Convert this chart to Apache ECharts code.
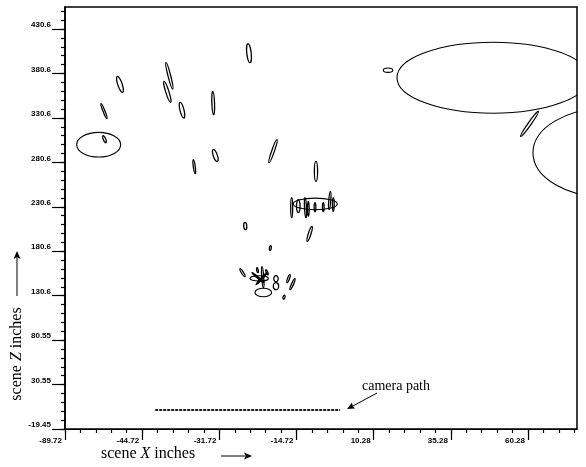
<!DOCTYPE html>
<html>
<head>
<meta charset="utf-8">
<script src="https://cdn.jsdelivr.net/npm/echarts@6/dist/echarts.min.js"></script>
<style>html,body{margin:0;padding:0;background:#fff}#c{width:586px;height:467px}</style>
</head>
<body>
<div id="c"></div>
<script>
// ---- axes ----
const X_MIN = -89.72, X_MAX = 76.15;
const Y_MIN = -19.45, Y_MAX = 455.3;
const xTickValues = [-89.72, -64.72, -39.72, -14.72, 10.28, 35.28, 60.28];
const xTickLabels = ['-89.72', '-44.72', '-31.72', '-14.72', '10.28', '35.28', '60.28'];
const yTickValues = [-19.45, 30.55, 80.55, 130.55, 180.55, 230.55, 280.55, 330.55, 380.55, 430.55];
const yTickLabels = ['-19.45', '30.55', '80.55', '130.6', '180.6', '230.6', '280.6', '330.6', '380.6', '430.6'];
const xMinorStep = 5, yMinorStep = 10;

// ---- axis-aligned ellipses: centre X, centre Z, semi-axis X, semi-axis Z (scene inches) ----
const ellX  = [-78.81, 48.93, 86.51, 14.92, -8.64, -26.81, -25.48];
const ellZ  = [300.39, 375.76, 291.39, 384.20, 233.78, 149.97, 134.11];
const ellRX = [7.13, 31.10, 24.62, 1.52, 7.13, 2.98, 2.69];
const ellRZ = [13.84, 39.94, 50.63, 2.48, 6.53, 3.04, 4.73];

// ---- thin elongated ellipses: major axis end points (X1,Z1)-(X2,Z2), minor semi-axis (Z units) ----
const strX1 = [-77.41, -78.06, -72.78, -57.00, -57.65, -52.47, -41.87, -48.16, -41.68, -30.44, -21.04, -8.41,
               -16.28, -14.14, -11.97, -10.90, -8.73, -6.04, -3.71, -2.80,
               -31.41, -9.70, -23.08, 63.61,
               -33.03, -25.90, -27.52, -24.61, -16.83, -15.21, -18.61, -21.37, -21.37, -29.14, -24.28];
const strZ1 = [310.51, 346.51, 377.22, 392.63, 371.60, 347.97, 360.35, 283.51, 294.76, 414.01, 306.01, 281.60,
               240.76, 238.51, 240.76, 236.60, 235.13, 235.13, 247.85, 240.76,
               212.97, 208.47, 186.76, 337.85,
               160.88, 163.13, 162.01, 159.76, 154.13, 149.63, 131.07, 153.01, 145.13, 156.38, 156.38];
const strX2 = [-76.44, -76.12, -71.03, -54.83, -55.48, -51.17, -41.55, -47.51, -40.38, -29.79, -23.63, -8.41,
               -16.28, -14.14, -11.65, -10.90, -8.73, -6.04, -4.20, -2.80,
               -31.25, -11.23, -23.31, 57.91,
               -31.41, -25.42, -27.20, -23.96, -17.80, -16.83, -18.94, -21.37, -21.37, -25.25, -27.85];
const strZ2 = [302.63, 329.63, 359.22, 363.05, 347.97, 330.42, 334.13, 267.76, 281.60, 392.63, 280.13, 259.10,
               218.26, 223.88, 218.26, 219.72, 225.01, 225.01, 227.26, 225.35,
               204.76, 191.60, 181.47, 309.72,
               151.88, 139.51, 156.38, 154.13, 145.13, 137.26, 126.57, 146.26, 137.26, 145.13, 142.88];
const strW  = [1.35, 1.1, 2.5, 1.5, 1.8, 2.25, 1.5, 1.1, 2.25, 2.5, 1.5, 1.8,
               1.1, 2.0, 1.1, 1.0, 1.0, 1.0, 1.1, 1.0,
               1.7, 1.5, 1.1, 1.7,
               1.1, 1.1, 0.9, 0.9, 1.1, 1.1, 1.1, 2.5, 3.0, 0.8, 0.8];

// ---- camera path ----
const camX = [-60.5, -0.6];
const camZ = [2.0, 2.0];

const xMinor = [], yMinor = [];
for (let v = X_MIN; v <= X_MAX + 1e-6; v += xMinorStep) xMinor.push(+v.toFixed(2));
for (let v = Y_MIN; v <= Y_MAX + 1e-6; v += yMinorStep) yMinor.push(+v.toFixed(2));

function lookup(vals, labels) {
  return function (v) {
    for (let i = 0; i < vals.length; i++) if (Math.abs(vals[i] - v) < 0.01) return labels[i];
    return '';
  };
}

const ellData = ellX.map((x, i) => [x, ellZ[i], ellRX[i], ellRZ[i]]);
const strData = strX1.map((x, i) => [x, strZ1[i], strX2[i], strZ2[i], strW[i]]);

const labelFont = { fontFamily: 'Liberation Sans', fontWeight: 'bold', fontSize: 8, color: '#000' };
const chart = echarts.init(document.getElementById('c'), null, { renderer: 'canvas' });

const baseX = { type: 'value', min: X_MIN, max: X_MAX, splitLine: { show: false } };
const baseY = { type: 'value', min: Y_MIN, max: Y_MAX, splitLine: { show: false } };

chart.setOption({
  animation: false,
  backgroundColor: '#fff',
  grid: { left: 65, right: 9, top: 7, bottom: 38, show: true, borderColor: '#000', borderWidth: 1.5,
          containLabel: false, outerBoundsMode: 'none' },
  xAxis: [
    Object.assign({}, baseX, {
      position: 'bottom',
      axisLine: { show: true, onZero: false, lineStyle: { color: '#000', width: 1.2 } },
      axisTick: { show: true, length: 11, customValues: xTickValues, lineStyle: { color: '#000', width: 1.2 } },
      axisLabel: Object.assign({ show: true, customValues: xTickValues, formatter: lookup(xTickValues, xTickLabels),
                   align: 'right', verticalAlign: 'top', margin: 8, padding: [0, 3, 0, 0] }, labelFont)
    }),
    Object.assign({}, baseX, {
      position: 'bottom',
      axisLine: { show: false, onZero: false },
      axisTick: { show: true, length: 4, customValues: xMinor, lineStyle: { color: '#000', width: 1.2 } },
      axisLabel: { show: false }
    })
  ],
  yAxis: [
    Object.assign({}, baseY, {
      position: 'left',
      axisLine: { show: true, onZero: false, lineStyle: { color: '#000', width: 1.6 } },
      axisTick: { show: true, length: 13, customValues: yTickValues, lineStyle: { color: '#000', width: 1.2 } },
      axisLabel: Object.assign({ show: true, customValues: yTickValues, formatter: lookup(yTickValues, yTickLabels),
                   align: 'right', verticalAlign: 'bottom', margin: 14 }, labelFont)
    }),
    Object.assign({}, baseY, {
      position: 'left',
      axisLine: { show: false, onZero: false },
      axisTick: { show: true, length: 4, customValues: yMinor, lineStyle: { color: '#000', width: 1.2 } },
      axisLabel: { show: false }
    })
  ],
  series: [
    {
      type: 'custom', name: 'ellipses', clip: true, xAxisIndex: 0, yAxisIndex: 0,
      encode: { x: 0, y: 1 },
      data: ellData,
      renderItem: function (params, api) {
        const c = api.coord([api.value(0), api.value(1)]);
        const s = api.size([api.value(2), api.value(3)]);
        return { type: 'ellipse', shape: { cx: c[0], cy: c[1], rx: s[0], ry: s[1] },
                 style: { fill: 'none', stroke: '#000', lineWidth: 1.1 } };
      }
    },
    {
      type: 'custom', name: 'streaks', clip: true, xAxisIndex: 0, yAxisIndex: 0,
      encode: { x: [0, 2], y: [1, 3] },
      data: strData,
      renderItem: function (params, api) {
        const p1 = api.coord([api.value(0), api.value(1)]);
        const p2 = api.coord([api.value(2), api.value(3)]);
        const w = api.size([0, api.value(4)])[1];
        const dx = p2[0] - p1[0], dy = p2[1] - p1[1];
        const len = Math.sqrt(dx * dx + dy * dy) / 2;
        const ang = Math.atan2(dy, dx);
        return { type: 'ellipse', x: (p1[0] + p2[0]) / 2, y: (p1[1] + p2[1]) / 2, rotation: -ang,
                 shape: { cx: 0, cy: 0, rx: len, ry: w },
                 style: { fill: 'none', stroke: '#000', lineWidth: 1.3 } };
      }
    },
    {
      type: 'line', name: 'camera path', xAxisIndex: 0, yAxisIndex: 0,
      data: camX.map((x, i) => [x, camZ[i]]),
      symbol: 'none',
      lineStyle: { color: '#222', width: 2, type: [3, 1] }
    }
  ],
  graphic: [
    { type: 'text', left: 101, top: 446, z: 10,
      style: { text: '{n|scene }{i|X}{n| inches}', fill: '#000',
               rich: { n: { fontFamily: 'Liberation Serif', fontSize: 16, fill: '#000' },
                       i: { fontFamily: 'Liberation Serif', fontSize: 16, fontStyle: 'italic', fill: '#000' } } } },
    { type: 'line', shape: { x1: 221, y1: 456, x2: 250, y2: 456 }, style: { stroke: '#000', lineWidth: 1 } },
    { type: 'polygon', shape: { points: [[252, 456], [244, 452.5], [246, 456], [244, 459.5]] }, style: { fill: '#000' } },
    { type: 'text', x: 17, y: 354, rotation: Math.PI / 2, z: 10,
      style: { text: '{n|scene }{i|Z}{n| inches}', align: 'center', verticalAlign: 'middle', fill: '#000',
               rich: { n: { fontFamily: 'Liberation Serif', fontSize: 16, fill: '#000' },
                       i: { fontFamily: 'Liberation Serif', fontSize: 16, fontStyle: 'italic', fill: '#000' } } } },
    { type: 'line', shape: { x1: 17, y1: 296, x2: 17, y2: 254 }, style: { stroke: '#000', lineWidth: 1 } },
    { type: 'polygon', shape: { points: [[17, 251], [13.5, 259], [17, 257], [20.5, 259]] }, style: { fill: '#000' } },
    { type: 'text', x: 362, y: 386, z: 10,
      style: { text: 'camera path', fontFamily: 'Liberation Serif', fontSize: 14, fill: '#000', verticalAlign: 'middle' } },
    { type: 'line', shape: { x1: 377, y1: 393, x2: 351, y2: 407 }, style: { stroke: '#000', lineWidth: 1 } },
    { type: 'polygon', shape: { points: [[347, 409], [355, 408.5], [352.5, 405.5], [352, 402.5]] }, style: { fill: '#000' } }
  ]
});
</script>
</body>
</html>
